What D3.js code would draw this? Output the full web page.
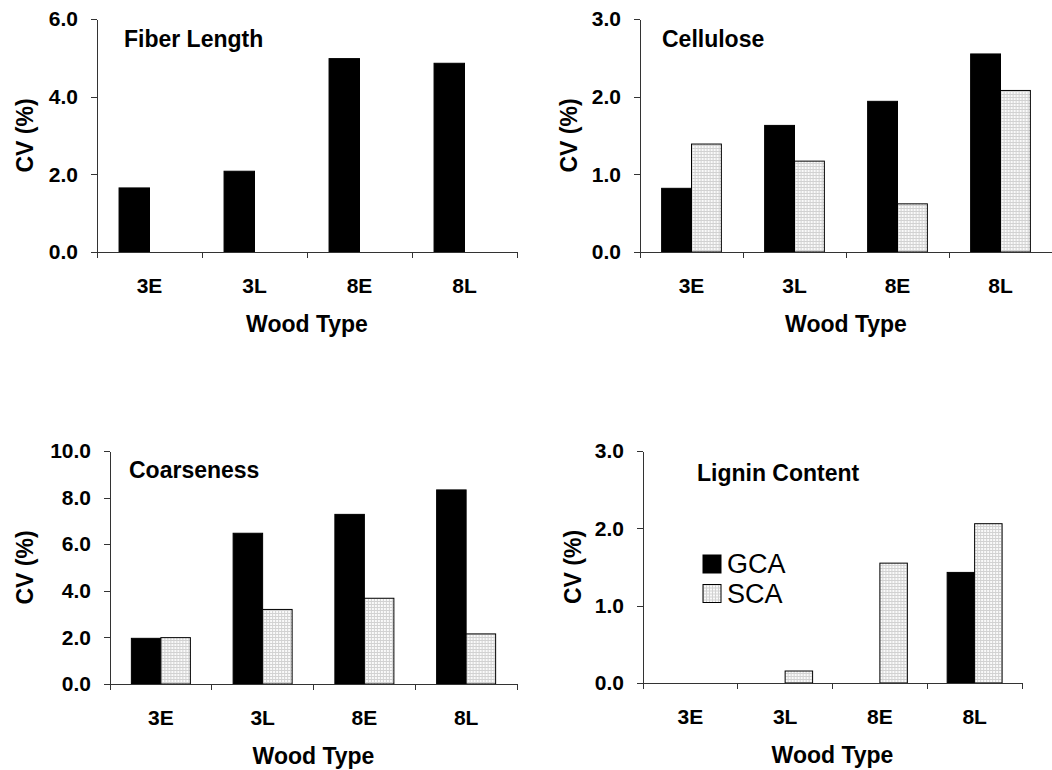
<!DOCTYPE html>
<html>
<head>
<meta charset="utf-8">
<script src="https://cdn.jsdelivr.net/npm/d3@7"></script>
<style>
  html, body { margin: 0; padding: 0; background: #fff; }
  svg { display: block; font-family: "Liberation Sans", Arial, sans-serif; }
  .axis path, .axis line { stroke: #333; shape-rendering: crispEdges; }
  .axis text { font-size: 21px; font-weight: bold; fill: #000; }
</style>
</head>
<body>
<div id="chart"></div>
<script>
const categories = ["3E", "3L", "8E", "8L"];
const series     = ["GCA", "SCA"];

const fiberGCA      = [1.65, 2.08, 4.98, 4.86];
const fiberSCA      = [0, 0, 0, 0];
const celluloseGCA  = [0.82, 1.63, 1.94, 2.55];
const celluloseSCA  = [1.39, 1.17, 0.62, 2.08];
const coarsenessGCA = [1.96, 6.47, 7.28, 8.33];
const coarsenessSCA = [1.99, 3.20, 3.68, 2.15];
const ligninGCA     = [0, 0, 0, 1.43];
const ligninSCA     = [0, 0.155, 1.55, 2.06];

const panelTitles = ["Fiber Length", "Cellulose", "Coarseness", "Lignin Content"];
const yMaxes      = [6, 3, 10, 3];
const ySteps      = [2, 1, 2, 1];

// layout of each plot area (pixels)
const frames = [
  {left:  97, right:  517, top:  19, bottom: 252, tx: 124, ty:  47, cvOff: 64},
  {left: 640, right: 1052, top:  19, bottom: 252, tx: 662, ty:  47, cvOff: 63},
  {left: 110, right:  517, top: 451, bottom: 684, tx: 129, ty: 478, cvOff: 77},
  {left: 643, right: 1022, top: 451, bottom: 683, tx: 697, ty: 481, cvOff: 62}
];
const panelData = [
  [fiberGCA, fiberSCA],
  [celluloseGCA, celluloseSCA],
  [coarsenessGCA, coarsenessSCA],
  [ligninGCA, ligninSCA]
];

const svg = d3.select("#chart").append("svg")
  .attr("width", 1052).attr("height", 770)
  .attr("xmlns", "http://www.w3.org/2000/svg");

const pat = svg.append("defs").append("pattern")
  .attr("id", "sca-fill")
  .attr("width", 3).attr("height", 3)
  .attr("patternUnits", "userSpaceOnUse");
pat.append("rect").attr("width", 3).attr("height", 3).attr("fill", "#fafafa");
pat.append("rect").attr("width", 1).attr("height", 3).attr("fill", "#d2d2d2");
pat.append("rect").attr("width", 3).attr("height", 1).attr("fill", "#d2d2d2");

const fillOf = s => s === "GCA" ? "#000" : "url(#sca-fill)";

frames.forEach((f, i) => drawPanel(f, i));

function drawPanel(f, i) {
  const w = f.right - f.left, h = f.bottom - f.top;
  const g = svg.append("g").attr("transform", `translate(${f.left} ${f.top})`);

  const x0 = d3.scaleBand(categories, [0, w]).paddingInner(0.42).paddingOuter(0.21);
  const x1 = d3.scaleBand(series, [0, x0.bandwidth()]);
  const y  = d3.scaleLinear([0, yMaxes[i]], [h, 0]);

  const rows = categories.map((c, k) => ({
    cat: c,
    vals: series.map((s, j) => ({s, v: panelData[i][j][k]})).filter(d => d.v > 0)
  }));

  g.selectAll("g.grp")
    .data(rows)
    .join("g")
      .attr("class", "grp")
      .attr("transform", d => `translate(${x0(d.cat)} 0)`)
    .selectAll("rect")
    .data(d => d.vals)
    .join("rect")
      .attr("x", d => x1(d.s))
      .attr("y", d => y(d.v))
      .attr("width", x1.bandwidth())
      .attr("height", d => h - y(d.v))
      .attr("fill", d => fillOf(d.s))
      .attr("stroke", "#000")
      .attr("stroke-width", 1);

  // y axis
  g.append("g").attr("class", "axis")
    .call(d3.axisLeft(y)
      .tickValues(d3.range(0, yMaxes[i] + 0.001, ySteps[i]))
      .tickFormat(d3.format(".1f"))
      .tickSize(6).tickSizeOuter(0).tickPadding(13));

  // x axis: category labels at band centres, ticks at group boundaries
  const xAx = g.append("g").attr("class", "axis")
    .attr("transform", `translate(0 ${h})`)
    .call(d3.axisBottom(x0).tickSize(0).tickSizeOuter(0).tickPadding(26));
  xAx.selectAll("text").attr("font-size", 23);
  const bounds = d3.range(categories.length + 1).map(k => k * x0.step());
  xAx.selectAll("line.bound")
    .data(bounds)
    .join("line")
      .attr("class", "bound")
      .attr("x1", d => d).attr("x2", d => d)
      .attr("y1", 0).attr("y2", 6);

  g.append("text")
    .attr("x", f.tx - f.left).attr("y", f.ty - f.top)
    .attr("font-size", 23).attr("font-weight", "bold")
    .text(panelTitles[i]);

  g.append("text")
    .attr("x", w / 2).attr("y", h + 80)
    .attr("text-anchor", "middle")
    .attr("font-size", 23).attr("font-weight", "bold")
    .text("Wood Type");

  g.append("text")
    .attr("transform", `translate(${-f.cvOff} ${h / 2}) rotate(-90)`)
    .attr("text-anchor", "middle")
    .attr("font-size", 23).attr("font-weight", "bold")
    .text("CV (%)");
}

// legend sits inside the lignin panel
const legend = svg.append("g").attr("transform", "translate(703 555)");
const li = legend.selectAll("g")
  .data(series)
  .join("g")
    .attr("transform", (d, k) => `translate(0 ${k * 29.5})`);
li.append("rect")
  .attr("width", 18).attr("height", 18)
  .attr("fill", d => fillOf(d))
  .attr("stroke", "#000");
li.append("text")
  .attr("x", 24).attr("y", 18)
  .attr("font-size", 27)
  .text(d => d);
</script>
</body>
</html>
